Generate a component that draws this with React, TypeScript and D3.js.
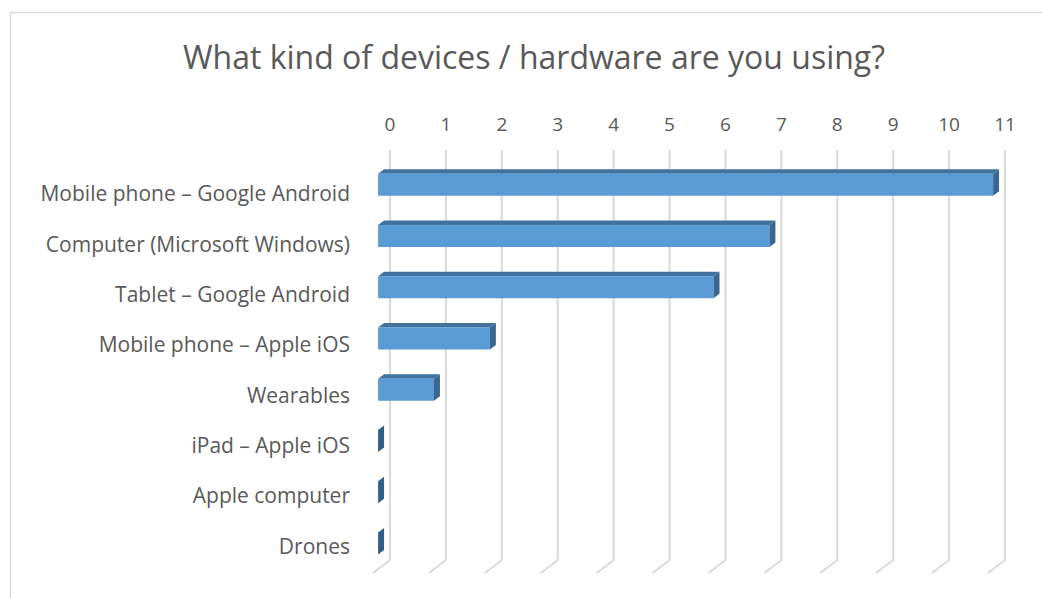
import React from "react";
import * as d3 from "d3";

const categories = [
  "Mobile phone – Google Android",
  "Computer (Microsoft Windows)",
  "Tablet – Google Android",
  "Mobile phone – Apple iOS",
  "Wearables",
  "iPad – Apple iOS",
  "Apple computer",
  "Drones",
];
const values = [11, 7, 6, 2, 1, 0, 0, 0];
const ticks = [0, 1, 2, 3, 4, 5, 6, 7, 8, 9, 10, 11];
const title = "What kind of devices / hardware are you using?";

const W = 1042;
const H = 598;
const DX = -17;
const DY = 13;
const D_BACK = 0.35;
const D_FRONT = 0.7;
const FONT = "'Open Sans', 'Noto Sans', sans-serif";
const TEXT = "#595959";

export default function App() {
  const x = d3.scaleLinear().domain([0, 11]).range([390, 1005]);
  const y = d3
    .scaleBand<string>()
    .domain(categories)
    .range([150, 560])
    .paddingInner(0.57)
    .paddingOuter(0.285);
  const yLabel = d3.scaleBand<string>().domain(categories).range([168, 571]);
  const bw = y.bandwidth();
  const P = (v: number, d: number, yb: number): [number, number] => [x(v) + DX * d, yb + DY * d];
  const poly = (pts: [number, number][]) => pts.map((p) => p.join(",")).join(" ");
  const yTop = 150;
  const yBot = 560;

  return (
    <svg
      width={W}
      height={H}
      style={{ position: "absolute", left: 0, top: 0, background: "#fff" }}
      fontFamily={FONT}
    >
      <rect x={10.5} y={12.5} width={W} height={H} fill="#fff" stroke="#d9d9d9" strokeWidth={1.5} />
      <text x={534} y={56} textAnchor="middle" dominantBaseline="central" fontSize={32} fill={TEXT}>
        {title}
      </text>
      {ticks.map((t) => (
        <g key={t}>
          <polyline
            points={poly([P(t, 0, yTop), P(t, 0, yBot), P(t, 1, yBot)])}
            fill="none"
            stroke="#d9d9d9"
            strokeWidth={2}
          />
          <text x={x(t)} y={124} textAnchor="middle" dominantBaseline="central" fontSize={19} fill={TEXT}>
            {t}
          </text>
        </g>
      ))}
      {categories.map((c, i) => {
        const yb = y(c)!;
        const v = values[i];
        const bf = P(0, D_FRONT, yb);
        const ef = P(v, D_FRONT, yb);
        const eb = P(v, D_BACK, yb);
        const bb = P(0, D_BACK, yb);
        return (
          <g key={c}>
            {v > 0 && (
              <>
                <polygon points={poly([bf, ef, eb, bb])} fill="#41729f" />
                <rect x={bf[0]} y={bf[1]} width={ef[0] - bf[0]} height={bw} fill="#5b9bd5" />
              </>
            )}
            <polygon
              points={poly([ef, eb, [eb[0], eb[1] + bw], [ef[0], ef[1] + bw]])}
              fill={v > 0 ? "#3a6792" : "#2f5e8a"}
            />
            <text
              x={350}
              y={yLabel(c)! + yLabel.bandwidth() / 2}
              textAnchor="end"
              dominantBaseline="central"
              fontSize={21}
              fill={TEXT}
            >
              {c}
            </text>
          </g>
        );
      })}
    </svg>
  );
}
